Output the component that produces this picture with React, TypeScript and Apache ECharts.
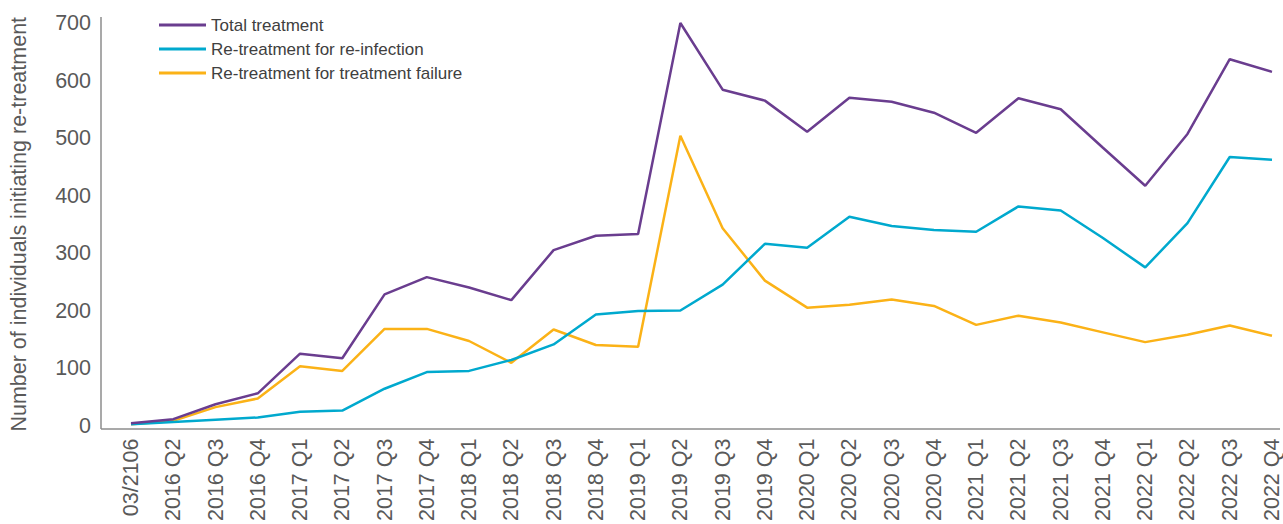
import React, { useEffect, useRef } from "react";
import * as echarts from "echarts";

const categories = [
  "03/2106", "2016 Q2", "2016 Q3", "2016 Q4",
  "2017 Q1", "2017 Q2", "2017 Q3", "2017 Q4",
  "2018 Q1", "2018 Q2", "2018 Q3", "2018 Q4",
  "2019 Q1", "2019 Q2", "2019 Q3", "2019 Q4",
  "2020 Q1", "2020 Q2", "2020 Q3", "2020 Q4",
  "2021 Q1", "2021 Q2", "2021 Q3", "2021 Q4",
  "2022 Q1", "2022 Q2", "2022 Q3", "2022 Q4",
];

const totalTreatment = [
  4, 11, 37, 56, 125, 117, 228, 258, 240, 218, 305, 330, 333, 700,
  584, 565, 511, 570, 563, 544, 509, 569, 550, 483, 417, 507, 637, 615,
];

const reInfection = [
  2, 6, 10, 14, 24, 26, 64, 93, 95, 114, 141, 193, 199, 200,
  245, 316, 309, 363, 347, 340, 337, 381, 374, 326, 275, 352, 467, 462,
];

const treatmentFailure = [
  2, 8, 32, 47, 103, 95, 168, 168, 147, 109, 167, 140, 137, 504,
  343, 252, 205, 210, 219, 208, 175, 191, 179, 162, 145, 158, 174, 156,
];

const yTicks = { min: 0, max: 700, interval: 100 };

const seriesNames = [
  "Total treatment",
  "Re-treatment for re-infection",
  "Re-treatment for treatment failure",
];
const colors = ["#6a3d8f", "#00a9ce", "#fbb217"];

export default function App() {
  const ref = useRef<HTMLDivElement>(null);

  useEffect(() => {
    if (!ref.current) return;
    const chart = echarts.init(ref.current, null, { renderer: "svg" });
    const font = "'Liberation Sans', Arial, sans-serif";
    const textColor = "#595959";
    const axisColor = "#8c8c8c";
    const dataSets = [totalTreatment, reInfection, treatmentFailure];

    chart.setOption({
      animation: false,
      textStyle: { fontFamily: font },
      grid: { left: 130, right: 11, top: 23, bottom: 95, containLabel: false },
      legend: {
        orient: "vertical",
        left: 154,
        top: 10,
        itemWidth: 47,
        itemHeight: 3,
        itemGap: 4,
        icon: "rect",
        data: seriesNames,
        textStyle: { fontSize: 17, color: "#404040", fontFamily: font, lineHeight: 20 },
      },
      xAxis: {
        type: "category",
        data: categories,
        boundaryGap: false,
        axisLine: { show: false },
        axisTick: { show: false },
        axisLabel: {
          rotate: 90,
          margin: 13,
          interval: 0,
          fontSize: 21.5,
          color: textColor,
          fontFamily: font,
        },
      },
      yAxis: {
        type: "value",
        min: yTicks.min,
        max: yTicks.max,
        interval: yTicks.interval,
        offset: 29,
        name: "Number of individuals initiating re-treatment",
        nameLocation: "middle",
        nameGap: 72,
        nameRotate: 90,
        nameTextStyle: { fontSize: 21.5, color: textColor, fontFamily: font },
        axisLine: { show: false },
        axisTick: { show: false },
        splitLine: { show: false },
        axisLabel: {
          fontSize: 21.5,
          color: textColor,
          margin: 11,
          fontFamily: font,
        },
      },
      graphic: [
        {
          type: "line",
          shape: { x1: 101, y1: 17, x2: 101, y2: 429 },
          style: { stroke: axisColor, lineWidth: 1.5 },
          silent: true,
        },
        {
          type: "line",
          shape: { x1: 101, y1: 429, x2: 1280, y2: 429 },
          style: { stroke: axisColor, lineWidth: 1.5 },
          silent: true,
        },
      ],
      series: seriesNames.map((name, i) => ({
        name,
        type: "line",
        data: dataSets[i],
        symbol: "none",
        color: colors[i],
        lineStyle: { width: 2.5, color: colors[i] },
        z: 3 - i,
      })),
    });

    return () => chart.dispose();
  }, []);

  return (
    <div
      ref={ref}
      style={{ position: "fixed", left: 0, top: 0, width: 1283, height: 524, background: "#fff" }}
    />
  );
}
